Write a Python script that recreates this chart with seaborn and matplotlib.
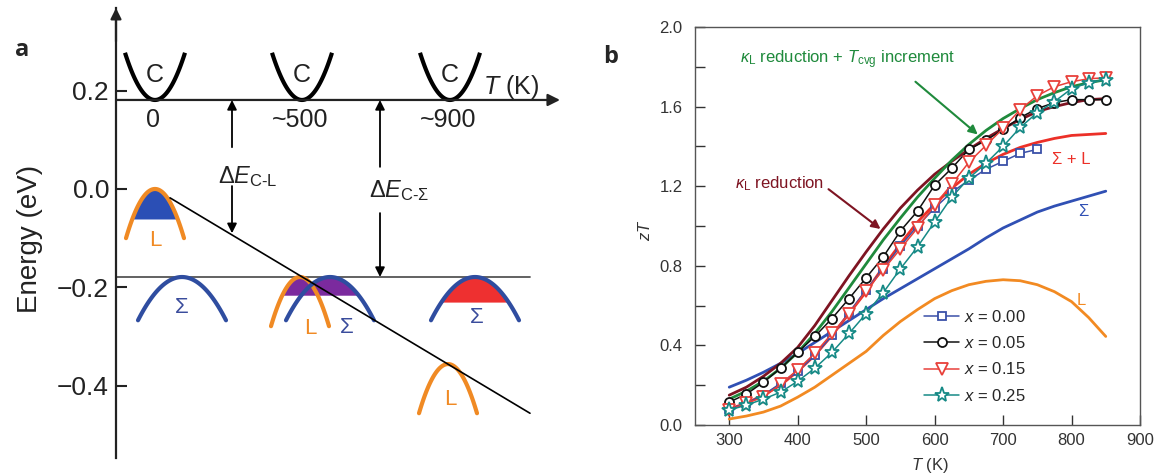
import numpy as np
import pandas as pd
import matplotlib
matplotlib.use("Agg")
import matplotlib.pyplot as plt
from matplotlib.ticker import FormatStrFormatter, MultipleLocator
import seaborn as sns

sns.set_theme(style="white")
plt.rcParams["font.family"] = ["Liberation Sans", "DejaVu Sans"]
plt.rcParams["mathtext.fontset"] = "custom"
plt.rcParams["mathtext.rm"] = "Liberation Sans"
plt.rcParams["mathtext.it"] = "Liberation Sans:italic"
plt.rcParams["mathtext.bf"] = "Liberation Sans:bold"

# ---------------- Panel b data ----------------
T_K = [300, 325, 350, 375, 400, 425, 450, 475, 500, 525, 550, 575, 600,
       625, 650, 675, 700, 725, 750, 775, 800, 825, 850]
T_x000 = [300, 325, 350, 375, 400, 425, 450, 475, 500, 525, 550, 575, 600,
          625, 650, 675, 700, 725, 750]
zT_x000 = [0.08, 0.11, 0.15, 0.21, 0.27, 0.35, 0.45, 0.565, 0.68, 0.785, 0.90,
           1.00, 1.09, 1.17, 1.23, 1.285, 1.325, 1.365, 1.385]
zT_x005 = [0.115, 0.155, 0.215, 0.285, 0.365, 0.445, 0.535, 0.635, 0.74, 0.845,
           0.975, 1.075, 1.205, 1.29, 1.385, 1.43, 1.485, 1.545, 1.59, 1.62,
           1.635, 1.635, 1.635]
zT_x015 = [0.075, 0.11, 0.14, 0.205, 0.278, 0.36, 0.46, 0.558, 0.675, 0.78,
           0.885, 0.99, 1.105, 1.21, 1.32, 1.405, 1.49, 1.585, 1.655, 1.70,
           1.725, 1.74, 1.745]
zT_x025 = [0.075, 0.10, 0.13, 0.165, 0.22, 0.285, 0.365, 0.46, 0.56, 0.665,
           0.785, 0.895, 1.02, 1.145, 1.24, 1.315, 1.40, 1.495, 1.57, 1.625,
           1.69, 1.72, 1.735]
zT_sigma = [0.19, 0.225, 0.265, 0.31, 0.36, 0.415, 0.47, 0.525, 0.58, 0.635,
            0.685, 0.735, 0.785, 0.835, 0.885, 0.94, 0.99, 1.03, 1.07, 1.10,
            1.125, 1.15, 1.175]
zT_L = [0.03, 0.045, 0.065, 0.095, 0.14, 0.19, 0.25, 0.31, 0.37, 0.45, 0.52,
        0.58, 0.635, 0.675, 0.705, 0.722, 0.73, 0.725, 0.705, 0.67, 0.62, 0.54,
        0.445]
zT_sigmaL = [0.08, 0.11, 0.15, 0.20, 0.27, 0.35, 0.45, 0.56, 0.67, 0.795, 0.91,
             1.02, 1.11, 1.19, 1.26, 1.315, 1.36, 1.395, 1.42, 1.44, 1.455,
             1.46, 1.465]
zT_kl = [0.15, 0.19, 0.245, 0.31, 0.39, 0.50, 0.625, 0.75, 0.87, 0.985, 1.09,
         1.18, 1.26, 1.325, 1.385, 1.44, 1.49, 1.535, 1.575, 1.60, 1.62, 1.635,
         1.64]
zT_kl_tcvg = [0.13, 0.17, 0.22, 0.285, 0.365, 0.46, 0.57, 0.69, 0.81, 0.93,
              1.04, 1.145, 1.24, 1.33, 1.41, 1.48, 1.54, 1.59, 1.635, 1.67, 1.70,
              1.72, 1.735]
legend_labels = [r"$x$ = 0.00", r"$x$ = 0.05", r"$x$ = 0.15", r"$x$ = 0.25"]
x_ticks_b = [300, 400, 500, 600, 700, 800, 900]
y_ticks_b = [0.0, 0.4, 0.8, 1.2, 1.6, 2.0]

# ---------------- Panel a schematic (energy in eV, x in arbitrary units) ----
E_C = 0.181            # conduction band (T axis) level
E_Sigma = -0.179       # Sigma band top level
C_x = [39, 186, 334]
C_T_labels = ["0", "~500", "~900"]
L_x = [39, 184, 332]
L_top = [0.0, -0.179, -0.356]
S_x = [66, 214, 359]
fill_L_bottom = -0.061
fill_mix_bottom = -0.216
fill_S_bottom = -0.230
diag_x = [54, 414]
diag_E = [-0.018, -0.456]
yticks_a = [0.2, 0.0, -0.2, -0.4]

orange = "#F08A24"
blue_band = "#2F4DA0"

fig = plt.figure(figsize=(11.58, 4.76), dpi=100)

# ======================= Panel a =======================
axA = fig.add_axes([116 / 1158, 1 - 458 / 476, 454 / 1158, 450 / 476])
axA.set_xlim(0, 454)
axA.set_ylim(-0.547, 0.368)
for s in ["top", "right", "bottom"]:
    axA.spines[s].set_visible(False)
axA.spines["left"].set_color("#222222")
axA.spines["left"].set_linewidth(1.6)
axA.set_xticks([])
axA.set_yticks(yticks_a)
axA.set_yticklabels(["0.2", "0.0", "\u22120.2", "\u22120.4"])
axA.tick_params(axis="y", direction="in", length=8, width=1.5, pad=5,
                labelsize=19, left=True, colors="#222222")
axA.set_ylabel("Energy (eV)", fontsize=20, color="#222222")
axA.yaxis.set_label_coords(-0.16, 0.487)

arrow_kw = dict(arrowstyle="-|>", color="black", lw=1.3, mutation_scale=14,
                shrinkA=0, shrinkB=0)
# axes arrows
axA.annotate("", xy=(0, 0.368), xytext=(0, 0.30), annotation_clip=False,
             arrowprops=dict(arrowstyle="-|>", color="#222222", lw=1.6,
                             mutation_scale=16, shrinkA=0, shrinkB=0))
axA.annotate("", xy=(444, E_C), xytext=(0, E_C),
             arrowprops=dict(arrowstyle="-|>", color="#222222", lw=1.6,
                             mutation_scale=18, shrinkA=0, shrinkB=0))
axA.text(395, 0.208, r"$T$ (K)", fontsize=18, ha="center", va="center",
         color="#222222")

# C bands (upward parabolas)
for cx, lab in zip(C_x, C_T_labels):
    xx = np.linspace(cx - 30, cx + 30, 80)
    axA.plot(xx, E_C + 0.096 * ((xx - cx) / 30) ** 2, color="black", lw=3.0,
             solid_capstyle="butt")
    axA.text(cx, 0.232, "C", fontsize=18, ha="center", va="center",
             color="#222222")
    axA.text(cx - 2, 0.141, lab, fontsize=18, ha="center", va="center",
             color="#222222")

# Sigma level line and diagonal L line
axA.plot([0, 414], [E_Sigma, E_Sigma], color="#555555", lw=1.3)
axA.plot(diag_x, diag_E, color="black", lw=1.2, zorder=6)

def band(cx, top, hw, depth, n=80):
    xx = np.linspace(cx - hw, cx + hw, n)
    return xx, top - depth * ((xx - cx) / hw) ** 2

# fills
xx, yy = band(L_x[0], L_top[0], 29, 0.10)
axA.fill_between(xx, fill_L_bottom, yy, where=yy >= fill_L_bottom,
                 color="#2B4FB5", lw=0, zorder=2)
xl, yl = band(L_x[1], L_top[1], 28, 0.098)
xs, ys = band(S_x[1], E_Sigma, 44, 0.088)
xm = np.linspace(xl[0], xs[-1], 300)
up = np.maximum(np.interp(xm, xl, yl, left=-1, right=-1),
                np.interp(xm, xs, ys, left=-1, right=-1))
axA.fill_between(xm, fill_mix_bottom, up, where=up >= fill_mix_bottom,
                 color="#7B2A9E", lw=0, zorder=2)
xx, yy = band(S_x[2], E_Sigma, 44, 0.088)
axA.fill_between(xx, fill_S_bottom, yy, where=yy >= fill_S_bottom,
                 color="#EE3030", lw=0, zorder=2)

# L bands (orange) and Sigma bands (blue)
for cx, top in zip(L_x, L_top):
    xx, yy = band(cx, top, 29, 0.10)
    axA.plot(xx, yy, color=orange, lw=3.0, zorder=3, solid_capstyle="round")
for cx in S_x:
    xx, yy = band(cx, E_Sigma, 44, 0.088)
    axA.plot(xx, yy, color=blue_band, lw=3.0, zorder=4, solid_capstyle="round")

# band labels
L_lab_pos = [(39, -0.104), (194, -0.283), (334, -0.429)]
S_lab_pos = [(66, -0.240), (231, -0.281), (361, -0.262)]
for (px, py) in L_lab_pos:
    axA.text(px, py, "L", fontsize=16, color=orange, ha="center", va="center")
for (px, py) in S_lab_pos:
    axA.text(px, py, "\u03a3", fontsize=16, color="#3A4C9C", ha="center",
             va="center")

# Delta E arrows
axA.annotate("", xy=(116, E_C), xytext=(116, 0.085), arrowprops=arrow_kw)
axA.annotate("", xy=(116, -0.090), xytext=(116, 0.006), arrowprops=arrow_kw)
axA.text(132, 0.026, r"$\Delta E_{\text{C-L}}$", fontsize=17, ha="center",
         va="center", color="#222222")
axA.annotate("", xy=(264, E_C), xytext=(264, 0.045), arrowprops=arrow_kw)
axA.annotate("", xy=(264, E_Sigma), xytext=(264, -0.049), arrowprops=arrow_kw)
axA.text(283, -0.004, "$\\Delta E_{\\text{C-\u03a3}}$", fontsize=17,
         ha="center", va="center", color="#222222")

fig.text(15 / 1158, 1 - 50 / 476, "a", fontsize=17, fontweight="bold",
         family="Open Sans", ha="left", va="center")

# ======================= Panel b =======================
axB = fig.add_axes([695 / 1158, 1 - 425 / 476, 445 / 1158, 398 / 476])

calc = pd.DataFrame({"T": T_K, "Sigma": zT_sigma, "L": zT_L,
                     "SigmaL": zT_sigmaL, "kl": zT_kl, "kl_tcvg": zT_kl_tcvg})
calc_styles = [("L", "#F28A22"), ("Sigma", "#3050B4"), ("SigmaL", "#EC3028"),
               ("kl", "#7E1422"), ("kl_tcvg", "#1F8A3C")]
for col, colr in calc_styles:
    sns.lineplot(data=calc, x="T", y=col, ax=axB, color=colr, lw=2.0,
                 legend=False, zorder=2)

exp_sets = [
    (T_x000, zT_x000, "#3A50A8", "s", 5.5, legend_labels[0]),
    (T_K, zT_x005, "#111111", "o", 6.5, legend_labels[1]),
    (T_K, zT_x015, "#E8403A", "v", 8.5, legend_labels[2]),
    (T_K, zT_x025, "#168A86", "*", 11, legend_labels[3]),
]
handles = []
for tx, zy, colr, mk, ms, lab in exp_sets:
    df = pd.DataFrame({"T": tx, "zT": zy})
    sns.lineplot(data=df, x="T", y="zT", ax=axB, color=colr, lw=1.1,
                 marker=mk, markersize=ms, markerfacecolor="white",
                 markeredgecolor=colr, markeredgewidth=1.3, legend=False,
                 zorder=3)
    line = axB.lines[-1]
    line.set_label(lab)
    handles.append(line)

axB.set_xlim(250, 900)
axB.set_ylim(0, 2.0)
axB.set_xticks(x_ticks_b)
axB.set_yticks(y_ticks_b)
axB.yaxis.set_minor_locator(MultipleLocator(0.2))
axB.yaxis.set_major_formatter(FormatStrFormatter("%.1f"))
axB.tick_params(which="both", direction="in", length=7, width=1,
                colors="#333333", labelsize=12, bottom=True, left=True)
axB.tick_params(axis="y", pad=9)
axB.tick_params(axis="x", pad=6)
for s in axB.spines.values():
    s.set_color("#555555")
    s.set_linewidth(1.0)
axB.set_xlabel(r"$T$ (K)", fontsize=12, color="#333333")
axB.xaxis.set_label_coords(0.528, -0.078)
axB.set_ylabel(r"$zT$", fontsize=12, color="#333333")
axB.yaxis.set_label_coords(-0.095, 0.49)

axB.legend(handles=handles, loc="upper left", bbox_to_anchor=(0.515, 0.292),
           frameon=False, fontsize=12, handlelength=2.1, handletextpad=0.3,
           labelspacing=0.62, borderpad=0, borderaxespad=0)

axB.text(316, 1.835, r"$\kappa_{\rm L}$ reduction + $T_{\rm cvg}$ increment",
         fontsize=12, color="#1F8A3C", ha="left", va="center")
axB.annotate("", xy=(663, 1.46), xytext=(572, 1.725),
             arrowprops=dict(arrowstyle="-|>", color="#1F8A3C", lw=1.5,
                             mutation_scale=13, shrinkA=0, shrinkB=0))
axB.text(309, 1.215, r"$\kappa_{\rm L}$ reduction", fontsize=12,
         color="#7E1422", ha="left", va="center")
axB.annotate("", xy=(521, 0.985), xytext=(445, 1.185),
             arrowprops=dict(arrowstyle="-|>", color="#7E1422", lw=1.5,
                             mutation_scale=13, shrinkA=0, shrinkB=0))
axB.text(799, 1.335, "\u03a3 + L", fontsize=12, color="#EC3028", ha="center",
         va="center")
axB.text(817, 1.075, "\u03a3", fontsize=12, color="#3050B4", ha="center",
         va="center")
axB.text(814, 0.625, "L", fontsize=12, color="#F28A22", ha="center",
         va="center")

fig.text(603 / 1158, 1 - 57 / 476, "b", fontsize=17, fontweight="bold",
         family="Open Sans", ha="left", va="center")

fig.savefig("out.png", dpi=100)
